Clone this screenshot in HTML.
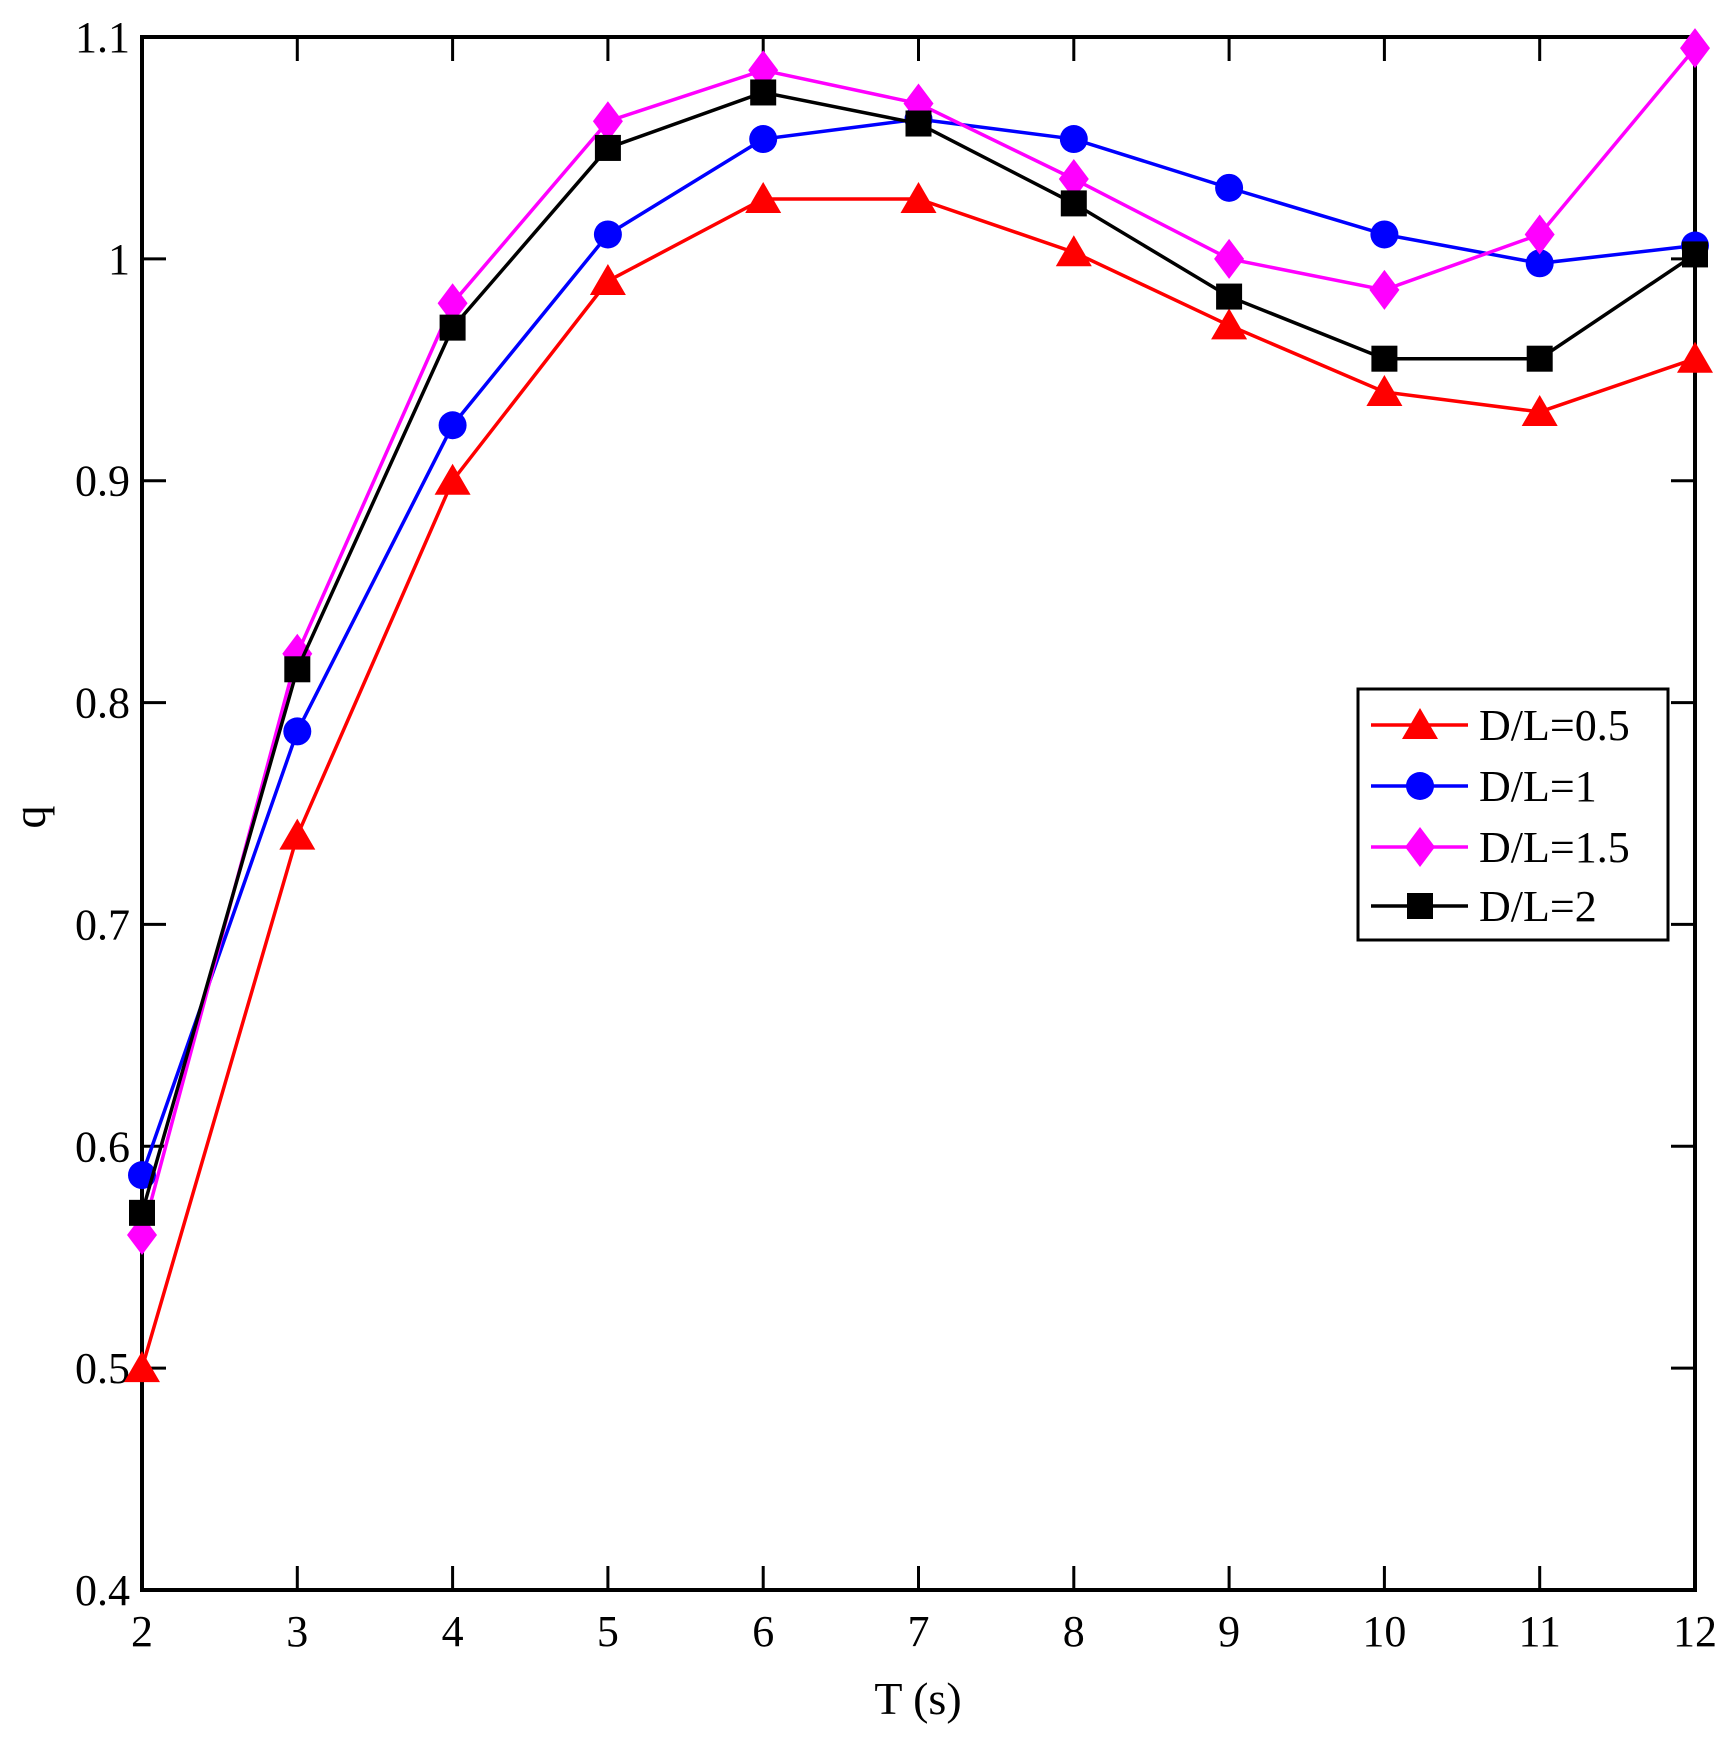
<!DOCTYPE html>
<html><head><style>body{margin:0;background:#fff}</style></head><body>
<svg width="1735" height="1735" xmlns="http://www.w3.org/2000/svg" font-family="Liberation Serif, serif">
<script>
const L=142,R=1695,T=37,B=1590;
const X=x=>L+(x-2)*(R-L)/10, Y=y=>B-(y-0.4)*(B-T)/0.7;
const s=document.querySelector('svg');const ns='http://www.w3.org/2000/svg';
function el(t,a,txt){const e=document.createElementNS(ns,t);for(const k in a)e.setAttribute(k,a[k]);if(txt!==undefined)e.textContent=txt;s.appendChild(e);return e;}
for(let i=2;i<=12;i++){const x=X(i);
el('line',{x1:x,y1:B,x2:x,y2:B-24,stroke:'#000','stroke-width':3});
el('line',{x1:x,y1:T,x2:x,y2:T+24,stroke:'#000','stroke-width':3});
el('text',{x:x,y:B+56,'font-size':44,'text-anchor':'middle'},i);}
for(let i=4;i<=11;i++){const v=i/10,y=Y(v);
el('line',{x1:L,y1:y,x2:L+24,y2:y,stroke:'#000','stroke-width':3});
el('line',{x1:R,y1:y,x2:R-24,y2:y,stroke:'#000','stroke-width':3});
el('text',{x:130,y:y+15,'font-size':44,'text-anchor':'end'},i==10?'1':(v).toFixed(1));}
el('rect',{x:L,y:T,width:R-L,height:B-T,fill:'none',stroke:'#000','stroke-width':4});
el('text',{x:918,y:1714,'font-size':46,'text-anchor':'middle'},'T (s)');
el('text',{x:0,y:0,'font-size':46,'text-anchor':'middle',transform:'translate(45,817) rotate(-90)'},'q');
const S=[
['red','tri',[0.5,0.74,0.9,0.99,1.027,1.027,1.003,0.97,0.94,0.931,0.955],'D/L=0.5'],
['blue','cir',[0.587,0.787,0.925,1.011,1.054,1.063,1.054,1.032,1.011,0.998,1.006],'D/L=1'],
['magenta','dia',[0.56,0.822,0.98,1.062,1.085,1.07,1.036,1.0,0.986,1.011,1.095],'D/L=1.5'],
['black','sq',[0.57,0.815,0.969,1.05,1.075,1.061,1.025,0.983,0.955,0.955,1.002],'D/L=2']];
function mk(c,t,x,y){
if(t=='tri')el('polygon',{points:`${x},${y-17} ${x-18},${y+14} ${x+18},${y+14}`,fill:c});
if(t=='cir')el('circle',{cx:x,cy:y,r:14,fill:c});
if(t=='dia')el('polygon',{points:`${x},${y-20} ${x+15},${y} ${x},${y+20} ${x-15},${y}`,fill:c});
if(t=='sq')el('rect',{x:x-13,y:y-13,width:26,height:26,fill:c});}
S.forEach(([c,t,d])=>{el('polyline',{points:d.map((v,i)=>X(i+2)+','+Y(v)).join(' '),fill:'none',stroke:c,'stroke-width':3.5});
d.forEach((v,i)=>mk(c,t,X(i+2),Y(v)));});
el('rect',{x:1358,y:689,width:310,height:251,fill:'#fff',stroke:'#000','stroke-width':3});
[725,786,847,906].forEach((y,i)=>{const [c,t,,lab]=S[i];
el('line',{x1:1371,y1:y,x2:1468,y2:y,stroke:c,'stroke-width':3.5});mk(c,t,1420,y);
el('text',{x:1479,y:y+15,'font-size':44},lab);});
</script>
</svg>
</body></html>
